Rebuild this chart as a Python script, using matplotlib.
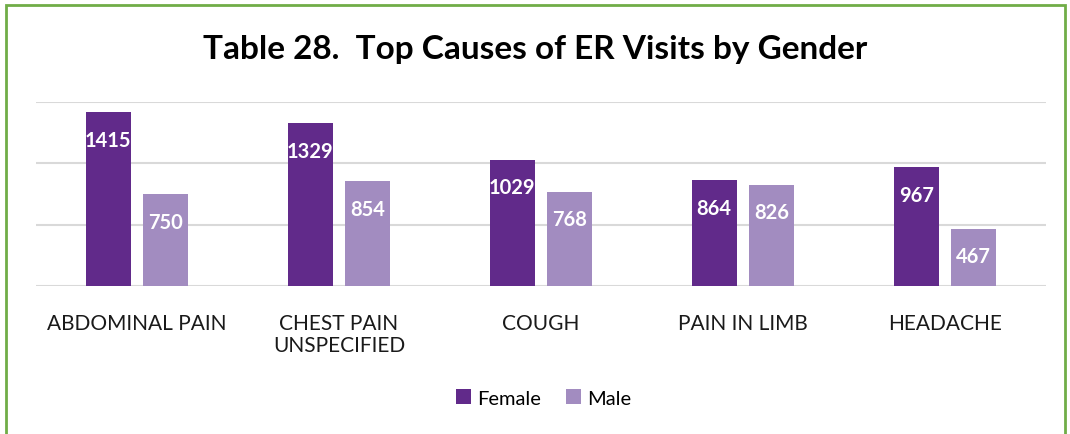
import numpy as np
import matplotlib.pyplot as plt

categories = ["ABDOMINAL PAIN", "CHEST PAIN\nUNSPECIFIED", "COUGH", "PAIN IN LIMB", "HEADACHE"]
female = [1415, 1329, 1029, 864, 967]
male = [750, 854, 768, 826, 467]

plt.rcParams["font.family"] = ["Lato", "DejaVu Sans"]


def main():
    fig = plt.figure(figsize=(10.7, 4.35), dpi=100)
    ax = fig.add_axes([36 / 1070, 1 - 287 / 435, 1010 / 1070, 184 / 435])

    x = np.arange(len(categories))
    w = 0.223
    off = 0.143
    b1 = ax.bar(x - off, female, w, color="#612A8A", label="Female", zorder=3)
    b2 = ax.bar(x + off, male, w, color="#A28CC0", label="Male", zorder=3)

    for bars in (b1, b2):
        for r in bars:
            ax.text(r.get_x() + r.get_width() / 2, r.get_height() - 225,
                    f"{int(r.get_height())}", ha="center", va="center",
                    color="white", fontsize=14.5, fontweight="bold", zorder=4)

    ax.set_xlim(-0.5, 4.5)
    ax.set_ylim(0, 1500)
    ax.set_yticks([0, 500, 1000, 1500])
    ax.yaxis.grid(True, color="#D9D9D9", linewidth=1.5, zorder=0)
    ax.set_yticklabels([])
    ax.tick_params(left=False, bottom=False)
    for s in ax.spines.values():
        s.set_visible(False)
    ax.set_xticks(x)
    ax.set_xticklabels(categories, fontsize=15, color="#1a1a1a", va="top",
                       linespacing=1.15)
    ax.tick_params(axis="x", pad=16)

    fig.text(0.5, 1 - 50 / 435, "Table 28.  Top Causes of ER Visits by Gender",
             ha="center", va="center", fontsize=24, fontweight="bold")

    fig.legend(handles=[b1, b2], loc="center", bbox_to_anchor=(0.508, 1 - 399 / 435),
               ncol=2, frameon=False, fontsize=14.5, handlelength=0.75, handleheight=0.75,
               handletextpad=0.3, columnspacing=1.2)

    border = plt.Rectangle((6 / 1070, -0.05), 1059 / 1070, 1.05 - 6 / 435,
                           transform=fig.transFigure, fill=False,
                           edgecolor="#70AD47", linewidth=2)
    fig.add_artist(border)

    fig.savefig("out.png", dpi=100)


if __name__ == "__main__":
    main()
